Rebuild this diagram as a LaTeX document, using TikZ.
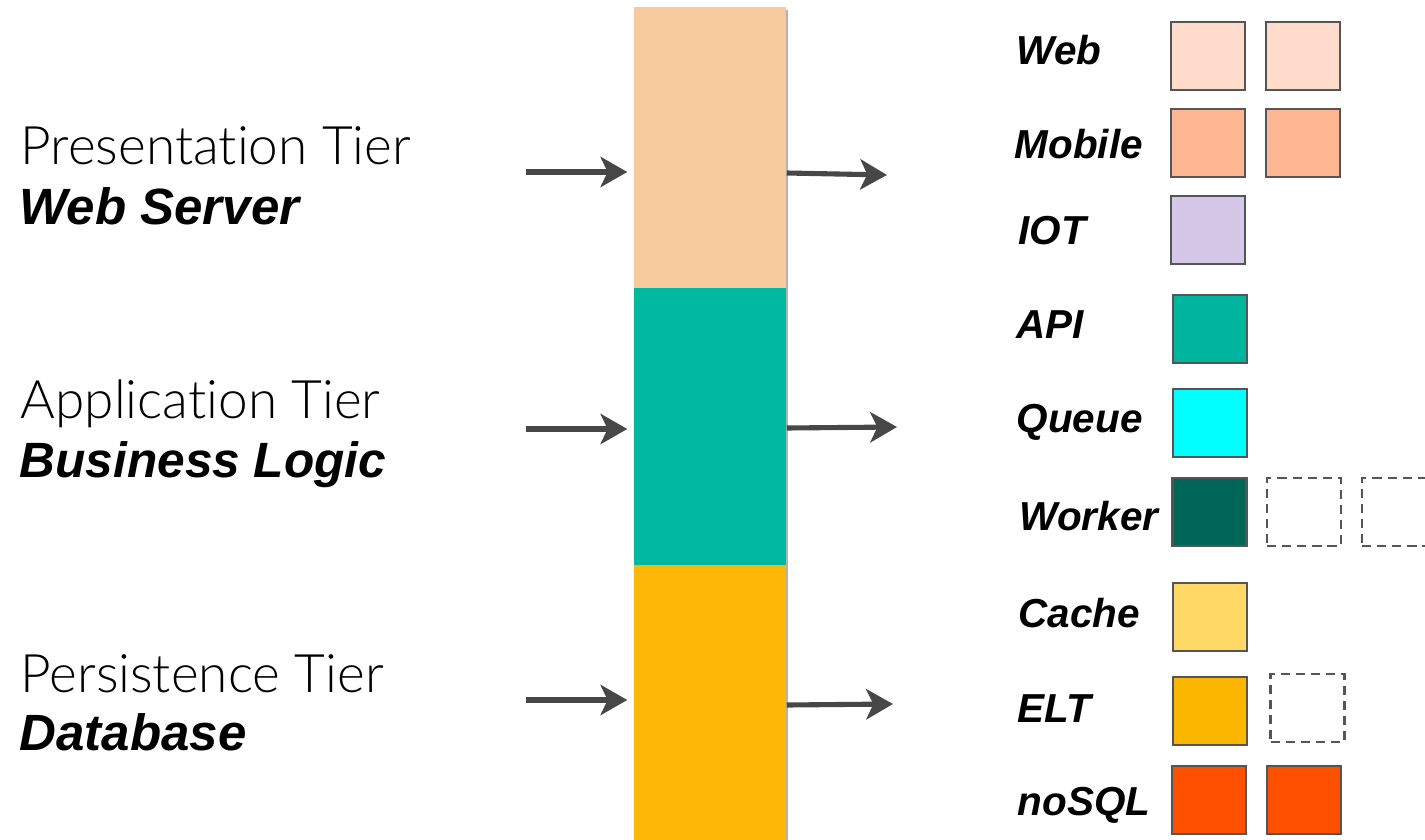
\documentclass[tikz,border=0pt]{standalone}
\usepackage{fontspec}
\setmainfont{Liberation Sans}
\newfontfamily\lightfont[Ligatures={NoCommon,NoRare,NoContextual}]{Lato Light}
\usetikzlibrary{arrows.meta}
\definecolor{peach}{HTML}{F7CA9D}
\definecolor{tealc}{HTML}{00B89F}
\definecolor{yellowc}{HTML}{FDB807}
\definecolor{arrowc}{HTML}{474747}
\definecolor{edgec}{HTML}{555555}
\definecolor{webc}{HTML}{FFDCCC}
\definecolor{mobilec}{HTML}{FFB693}
\definecolor{iotc}{HTML}{D5C7E8}
\definecolor{apic}{HTML}{00B59E}
\definecolor{queuec}{HTML}{00FFFF}
\definecolor{workerc}{HTML}{006657}
\definecolor{cachec}{HTML}{FFD966}
\definecolor{eltc}{HTML}{FBB700}
\definecolor{nosqlc}{HTML}{FF5000}
\tikzset{
  seg/.style={rectangle, inner sep=0pt, minimum width=1.52cm},
  flow/.style={draw=arrowc, line width=1.45pt, -{Stealth[length=7.6pt,width=8.6pt,inset=2pt]}},
  sq/.style={rectangle, draw=edgec, line width=0.75pt, inner sep=0pt, minimum width=0.74cm, minimum height=0.68cm},
  dsq/.style={sq, dash pattern=on 2.6pt off 1.7pt},
  tierlight/.style={anchor=base west, inner sep=0pt, font=\lightfont\fontsize{15.1}{18}\selectfont},
  tierbold/.style={anchor=base west, inner sep=0pt, font=\bfseries\itshape\fontsize{14.5}{17}\selectfont},
  lab/.style={anchor=base west, inner sep=0pt, font=\bfseries\itshape\fontsize{11.5}{13}\selectfont}
}
\begin{document}
\begin{tikzpicture}[x=0.01cm,y=-0.01cm]
\useasboundingbox (0,0) rectangle (1425,840);
% column
\draw[gray!60, line width=0.7pt] (787,10) -- (787,840);
\node[seg, fill=peach, minimum height=2.81cm] (pres) at (710,147.5) {};
\node[seg, fill=tealc, minimum height=2.77cm] (app) at (710,426.5) {};
\node[seg, fill=yellowc, minimum height=2.75cm] (pers) at (710,702.5) {};
% left texts
\node[tierlight] (t1) at (20,165) {Presenta\kern0pt tion Tier};
\node[tierbold] (t1b) at (19,225) {Web Server};
\node[tierlight] (t2) at (20,418) {Applica\kern0pt tion Tier};
\node[tierbold] (t2b) at (19,477) {\fontsize{14.1}{17}\selectfont Business Logic};
\node[tierlight] (t3) at (20,692) {Persistence Tier};
\node[tierbold] (t3b) at (19,750) {Database};
% arrow coordinates
\coordinate (i1) at (526,172);
\coordinate (i2) at (526,429);
\coordinate (i3) at (526,700);
\coordinate (o1) at (887,175);
\coordinate (o2) at (897,427);
\coordinate (o3) at (893,704);
\draw[flow, shorten >=1.7pt] (i1) -- (pres.west |- i1);
\draw[flow, shorten >=1.7pt] (i2) -- (app.west |- i2);
\draw[flow, shorten >=1.7pt] (i3) -- (pers.west |- i3);
\draw[flow] (pres.east |- 0,173) -- (o1);
\draw[flow] (app.east |- 0,428) -- (o2);
\draw[flow] (pers.east |- 0,705) -- (o3);
% right labels
\node[lab] (lweb) at (1016,65) {Web};
\node[lab] (lmob) at (1014,159) {Mobile};
\node[lab] (liot) at (1018,245) {IOT};
\node[lab] (lapi) at (1016,339) {API};
\node[lab] (lque) at (1016,432) {Queue};
\node[lab] (lwor) at (1019,530) {Worker};
\node[lab] (lcac) at (1018,627) {Cache};
\node[lab] (lelt) at (1017,722) {ELT};
\node[lab] (lnos) at (1017,815) {noSQL};
% boxes
\node[sq, fill=webc] (web1) at (1208,56) {};
\node[sq, fill=webc] (web2) at (1303,56) {};
\node[sq, fill=mobilec] (mob1) at (1208,143) {};
\node[sq, fill=mobilec] (mob2) at (1303,143) {};
\node[sq, fill=iotc] (iot1) at (1208,230) {};
\node[sq, fill=apic] (api1) at (1210,329) {};
\node[sq, fill=queuec] (que1) at (1210,423) {};
\node[sq, fill=workerc] (wor1) at (1209.5,512) {};
\node[dsq] (wor2) at (1304,512) {};
\node[dsq] (wor3) at (1399,512) {};
\node[sq, fill=cachec] (cac1) at (1210,617) {};
\node[sq, fill=eltc] (elt1) at (1210,711) {};
\node[dsq] (elt2) at (1307.5,708) {};
\node[sq, fill=nosqlc] (nos1) at (1209,800) {};
\node[sq, fill=nosqlc] (nos2) at (1304,800) {};
\end{tikzpicture}
\end{document}
